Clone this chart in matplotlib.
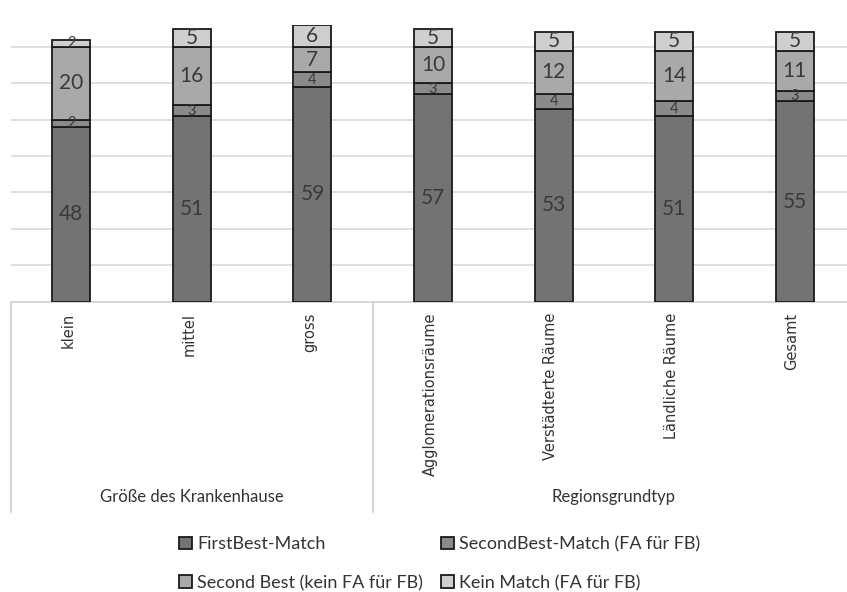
import numpy as np
import matplotlib.pyplot as plt
from matplotlib.lines import Line2D

categories = ['klein', 'mittel', 'gross', 'Agglomerationsräume',
              'Verstädterte Räume', 'Ländliche Räume', 'Gesamt']
groups = ['Größe des Krankenhause', 'Regionsgrundtyp']
group_sizes = [3, 4]

first_best = [48, 51, 59, 57, 53, 51, 55]
second_best_fa = [2, 3, 4, 3, 4, 4, 3]
second_best_no_fa = [20, 16, 7, 10, 12, 14, 11]
kein_match = [2, 5, 6, 5, 5, 5, 5]

series = [
    ('FirstBest-Match', first_best, '#737373'),
    ('SecondBest-Match (FA für FB)', second_best_fa, '#8a8a8a'),
    ('Second Best (kein FA für FB)', second_best_no_fa, '#a9a9a9'),
    ('Kein Match (FA für FB)', kein_match, '#cfcfcf'),
]

W, H = 847, 592
fig = plt.figure(figsize=(W / 100, H / 100), dpi=100)
base_y = 301.7
px_per_unit = 3.64
ymax = 76
left_px, right_px = 11, 855
ax = fig.add_axes([left_px / W, 1 - base_y / H,
                   (right_px - left_px) / W, ymax * px_per_unit / H])

x = np.arange(len(categories))
bottom = np.zeros(len(categories))
handles = {}
for name, vals, col in series:
    vals = np.array(vals, dtype=float)
    bars = ax.bar(x, vals, 0.315, bottom=bottom, color=col,
                  edgecolor='#1a1a1a', linewidth=1.3, label=name, zorder=3)
    handles[name] = bars
    for xi, b, v in zip(x, bottom, vals):
        ax.text(xi, b + v / 2, f'{int(v)}', ha='center', va='center',
                fontsize=10.5 if v < 5 else 15, color='#3a3a3a',
                family='Lato', zorder=4)
    bottom += vals

ax.set_xlim(-0.5, len(categories) - 0.5)
ax.set_ylim(0, ymax)
ax.set_yticks(range(10, 80, 10))
ax.yaxis.grid(True, color='#d9d9d9', linewidth=1.2, zorder=0)
ax.tick_params(left=False, bottom=False, labelleft=False, labelbottom=False)
for s in ['top', 'right', 'left']:
    ax.spines[s].set_visible(False)
ax.spines['bottom'].set_color('#d0d0d0')
ax.spines['bottom'].set_linewidth(1.2)

# category labels and group separators below the plot
def fx(xv):
    return (left_px + (xv + 0.5) * (right_px - left_px) / len(categories)) / W

for xi, lab in zip(x, categories):
    fig.text(fx(xi) - 3 / W, 1 - 313 / H, lab, rotation=90, ha='center',
             va='top', fontsize=10.5, family='DejaVu Sans', color='#333333')

start = 0
for g, n in zip(groups, group_sizes):
    xl = fx(start - 0.5)
    fig.add_artist(Line2D([xl, xl], [1 - base_y / H, 1 - 512 / H],
                          transform=fig.transFigure, color='#d0d0d0', lw=1.2))
    fig.text(fx(start + (n - 1) / 2), 1 - 497 / H, g, ha='center', va='center',
             fontsize=12, family='Lato', color='#333333')
    start += n

order = ['FirstBest-Match', 'Second Best (kein FA für FB)',
         'SecondBest-Match (FA für FB)', 'Kein Match (FA für FB)']
leg = fig.legend([handles[k] for k in order], order, ncol=2,
                 loc='upper left', bbox_to_anchor=(163 / W, 1 - 520 / H),
                 frameon=False, handlelength=0.7, handleheight=0.7,
                 handletextpad=0.3, columnspacing=1.0, labelspacing=1.25,
                 prop={'family': 'Lato', 'size': 13})
for t in leg.get_texts():
    t.set_color('#333333')

fig.savefig('out.png', dpi=100)
